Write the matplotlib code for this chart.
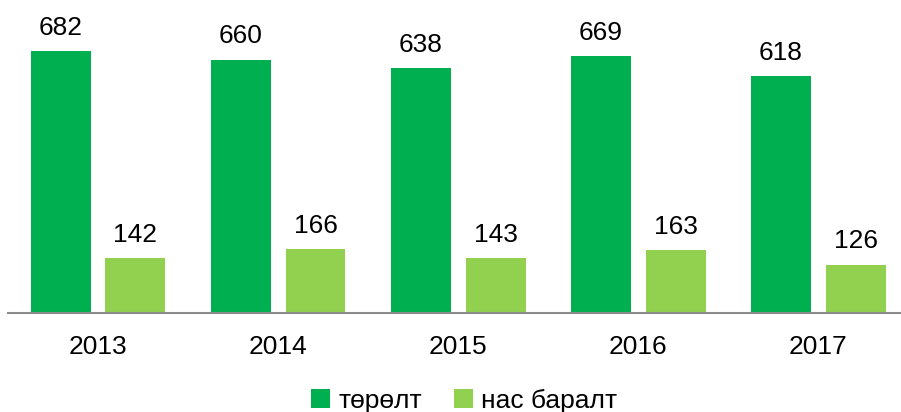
import matplotlib
matplotlib.use('Agg')
import matplotlib.pyplot as plt
import numpy as np

years = ['2013', '2014', '2015', '2016', '2017']
births = [682, 660, 638, 669, 618]
deaths = [142, 166, 143, 163, 126]
series_names = ['төрөлт', 'нас баралт']

plt.rcParams['font.family'] = ['Liberation Sans', 'DejaVu Sans']

fig = plt.figure(figsize=(9.01, 4.12), dpi=100)
ax = fig.add_axes([8 / 901, 99 / 412, 893 / 901, 313 / 412])

x = np.arange(len(years))
w = 0.333
off = 0.208
b1 = ax.bar(x - off, births, w, color='#00B050', label=series_names[0])
b2 = ax.bar(x + off, deaths, w, color='#92D050', label=series_names[1])

for bars in (b1, b2):
    for r in bars:
        ax.annotate(str(int(r.get_height())), (r.get_x() + r.get_width() / 2, r.get_height()),
                    xytext=(0, 8), textcoords='offset points', ha='center', va='bottom',
                    fontsize=19, color='black')

ax.set_xlim(-0.5, 4.46)
ax.set_ylim(0, 815)
ax.set_xticks(x)
ax.set_xticklabels(years, fontsize=19)
ax.tick_params(axis='x', length=0, pad=16)
ax.set_yticks([])
for s in ['top', 'right', 'left']:
    ax.spines[s].set_visible(False)
ax.spines['bottom'].set_color('#8c8c8c')
ax.spines['bottom'].set_linewidth(1.5)

fig.legend(loc='lower center', bbox_to_anchor=(0.515, -0.06), ncol=2, frameon=False,
           fontsize=19, handlelength=0.75, handleheight=0.75, handletextpad=0.3,
           columnspacing=1.2)

fig.savefig('out.png', dpi=100)
